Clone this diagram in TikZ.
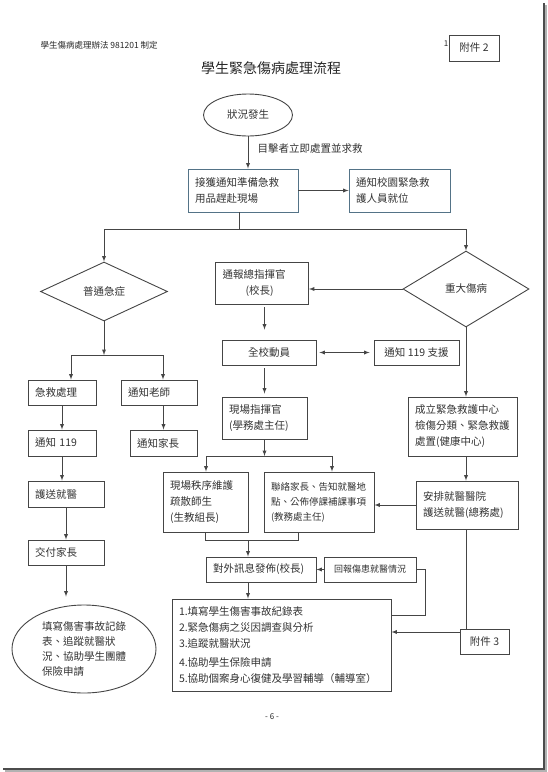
\documentclass[tikz,border=0pt]{standalone}
\usepackage{fontspec}
\setmainfont{Noto Sans CJK TC}
\usetikzlibrary{positioning}
\usetikzlibrary{calc}
\usetikzlibrary{arrows}
\usetikzlibrary{shapes}
\definecolor{edgegray}{rgb}{0.27,0.27,0.27}
\definecolor{steelframe}{rgb}{0.33,0.45,0.53}

\begin{document}
\begin{tikzpicture}
    [x=1pt, y=-1pt, >=latex,
    box/.style={draw=edgegray, line width=0.9pt, inner xsep=7pt, inner ysep=0pt, minimum height=25, text=black!80, font=\fontsize{10.5}{16}\selectfont, align=center},
    lbox/.style={box, align=left},
    bluebox/.style={lbox, draw=steelframe},
    cond/.style={diamond, draw=edgegray, line width=0.9pt, inner sep=0pt, text=black!80, font=\fontsize{10.5}{16}\selectfont},
    oval/.style={ellipse, draw=edgegray, line width=0.9pt, inner sep=0pt, text=black!80, font=\fontsize{10.5}{15}\selectfont, align=left},
    link/.style={draw=edgegray, line width=0.9pt}]
     \useasboundingbox (0,0) rectangle (547,772);
     % page shadow
     \draw[black!70, line width=2] (544,3) -- (544,769) -- (3,769);
     \draw[black!30, line width=1.5] (546,5) -- (546,771) -- (5,771);
     % heading
     \node[anchor=west, text=black!85, font=\fontsize{8.5}{10}\selectfont] (head) at (37,45) {學生傷病處理辦法 981201 制定};
     \node[text=black!85, font=\fontsize{8}{10}\selectfont] (pgone) at (446,44) {1};
     \node[box, minimum width=50, minimum height=26] (att2) at (474,48) {附件 2};
     \node[text=black!85, font=\fontsize{14}{16}\selectfont] (title) at (271,68) {學生緊急傷病處理流程};
     % top
     \node[oval, minimum width=89, minimum height=42, align=center] (start) at (248,115) {狀況發生};
     \node[anchor=west, text=black!80, font=\fontsize{10.5}{16}\selectfont] (rescue) at (254,148) {目擊者立即處置並求救};
     \node[bluebox, text width=96, minimum height=43] (accept) at (243,190.5) {接獲通知準備急救\\用品趕赴現場};
     \node[bluebox, text width=87, minimum height=43] (staff) at (399.5,190.5) {通知校園緊急救\\護人員就位};
     \node[cond, minimum width=127, minimum height=59] (mild) at (104,291.5) {普通急症};
     \node[cond, minimum width=126, minimum height=76] (severe) at (466,289) {重大傷病};
     % left branch
     \node[lbox, text width=54] (firstaid) at (62,392.5) {急救處理};
     \node[lbox, text width=62] (teacher) at (159,392.5) {通知老師};
     \node[lbox, text width=54, minimum height=26] (call119) at (62,443) {通知 119};
     \node[lbox, text width=53, minimum height=26] (parent) at (163.5,443) {通知家長};
     \node[lbox, text width=62, minimum height=26] (escort) at (66,494) {護送就醫};
     \node[lbox, text width=62] (handover) at (66,552.5) {交付家長};
     \node[oval, minimum width=144, minimum height=88] (record) at (84,649) {填寫傷害事故記錄\\表、追蹤就醫狀\\況、協助學生團體\\保險申請};
     % middle branch
     \node[lbox, text width=79, minimum height=42] (chief) at (262,283) {通報總指揮官\\\hspace*{2.2em}(校長)};
     \node[box, minimum width=94] (allstaff) at (269,352.5) {全校動員};
     \node[box, minimum width=85] (help119) at (416.5,352.5) {通知 119 支援};
     \node[lbox, text width=71, minimum height=42] (cmd) at (264.5,418) {現場指揮官\\(學務處主任)};
     \node[lbox, text width=71, minimum height=60] (order) at (205.5,502) {現場秩序維護\\疏散師生\\(生教組長)};
     \node[lbox, text width=96, minimum height=60, font=\fontsize{9.5}{15}\selectfont] (contact) at (319,502) {聯絡家長、告知就醫地\\點、公佈停課補課事項\\(教務處主任)};
     \node[lbox, text width=96] (news) at (261,569.5) {對外訊息發佈(校長)};
     \node[box, minimum width=92, font=\fontsize{9}{12}\selectfont] (report) at (370,569.5) {回報傷患就醫情況};
     \node[lbox, text width=205, minimum height=92] (summary) at (281.5,645) {1.填寫學生傷害事故紀錄表\\2.緊急傷病之災因調查與分析\\3.追蹤就醫狀況\\[3pt]4.協助學生保險申請\\5.協助個案身心復健及學習輔導（輔導室）};
     % right branch
     \node[lbox, text width=95, minimum height=59] (ecc) at (462.5,426.5) {成立緊急救護中心\\檢傷分類、緊急救護\\處置(健康中心)};
     \node[lbox, text width=88, minimum height=48] (arrange) at (467,505) {安排就醫醫院\\護送就醫(總務處)};
     \node[box, minimum width=49] (att3) at (484.5,641.5) {附件 3};
     \node[text=black!85, font=\fontsize{8}{10}\selectfont] (pnum) at (272,717) {- 6 -};
     % junctions
     \coordinate (drop) at (239,229);
     \coordinate (lj1) at (71,355);
     \coordinate (lj2) at (163,355);
     \coordinate (mj1) at (206,456);
     \coordinate (mj2) at (332,456);
     \coordinate (mb1) at (206,540);
     \coordinate (mb2) at (298,540);
     \coordinate (mb) at (248,540);
     \coordinate (rb) at (425,615);
     % connectors
     \draw[->, link] (start.south) -- (start.south |- accept.north);
     \draw[->, link] (accept) -- (staff);
     \draw[link] (drop |- accept.south) -- (drop);
     \draw[->, link] (drop) -| (mild.north);
     \draw[->, link] (drop) -| (severe.north);
     \draw[->, link] (mild.south) -- (mild.south |- lj1);
     \draw[link] (lj1) -- (lj2);
     \draw[->, link] (lj1) -- (lj1 |- firstaid.north);
     \draw[->, link] (lj2) -- (lj2 |- teacher.north);
     \draw[->, link] (firstaid) -- (call119);
     \draw[->, link] (parent |- teacher.south) -- (parent.north);
     \draw[->, link] (call119.south) -- (call119.south |- escort.north);
     \draw[->, link] (escort) -- (handover);
     \draw[->, link, shorten >=8] (handover.south) -- (handover.south |- record.north);
     \draw[->, link] (severe.west) -- (severe.west -| chief.east);
     \draw[->, link, shorten <=3, shorten >=10] (chief.south -| cmd) -- (allstaff.north -| cmd);
     \draw[<->, link, shorten <=3, shorten >=4] (allstaff) -- (help119);
     \draw[->, link, shorten <=3, shorten >=3] (allstaff.south -| cmd) -- (cmd.north);
     \draw[->, link] (cmd.south) -- (cmd.south |- mj1);
     \draw[link] (mj1) -- (mj2);
     \draw[->, link] (mj1) -- (mj1 |- order.north);
     \draw[->, link] (mj2) -- (mj2 |- contact.north);
     \draw[link] (order.south) -- (order.south |- mb1) -- (mb2) -- (mb2 |- contact.south);
     \draw[->, link] (mb) -- (mb |- news.north);
     \draw[->, link] (report) -- (news);
     \draw[->, link] (news.south -| mb) -- (mb |- summary.north);
     \draw[link] (report.east) -| (rb) -- (rb -| summary.east);
     \draw[->, link] (severe.south) -- (severe.south |- ecc.north);
     \draw[->, link] (ecc.south -| severe) -- (arrange.north -| severe);
     \draw[->, link] (arrange.west) -- (arrange.west -| contact.east);
     \draw[link] (arrange.south -| severe) -- (severe |- att3.north);
     \draw[->, link] ([yshift=9.5]att3.west) -- ([yshift=9.5]att3.west -| summary.east);
\end{tikzpicture}
\end{document}
